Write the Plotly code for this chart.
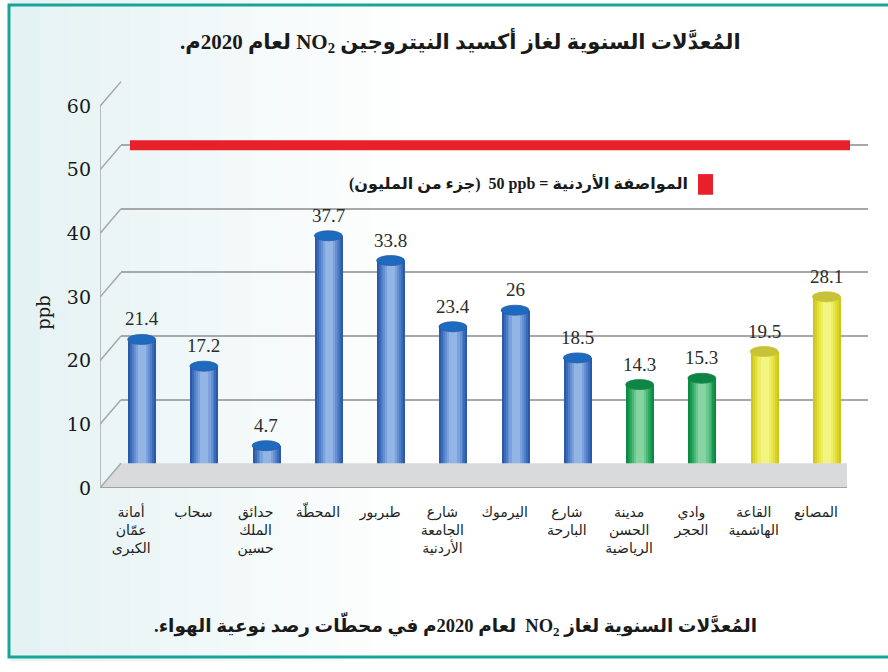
import plotly.graph_objects as go

# ---------------- data ----------------
STATIONS = [
    "أمانة<br>عمّان<br>الكبرى", "سحاب", "حدائق<br>الملك<br>حسين", "المحطّة", "طبربور",
    "شارع<br>الجامعة<br>الأردنية", "اليرموك", "شارع<br>البارحة",
    "مدينة<br>الحسن<br>الرياضية", "وادي<br>الحجر", "القاعة<br>الهاشمية", "المصانع",
]
NO2_PPB = [21.4, 17.2, 4.7, 37.7, 33.8, 23.4, 26, 18.5, 14.3, 15.3, 19.5, 28.1]
GROUP = ["blue"] * 8 + ["green"] * 2 + ["yellow"] * 2
STANDARD_PPB = 50
Y_TICKS = [0, 10, 20, 30, 40, 50, 60]

TITLE = "المُعدَّلات السنوية لغاز أكسيد النيتروجين NO<sub>2</sub> لعام 2020م."
CAPTION = "المُعدَّلات السنوية لغاز NO<sub>2</sub>  لعام 2020م في محطّات رصد نوعية الهواء."
LEGEND_TEXT = "المواصفة الأردنية = \u202a50 ppb\u202c  (جزء من المليون)"
Y_TITLE = "ppb"

# ---------------- styles ----------------
LAYER_COLORS = {
    "blue":   ["#2a5aa8", "#3a6ab9", "#4f7fc7", "#6590d2", "#7ba2dc", "#93b5e6"],
    "green":  ["#0a8a42", "#179a4f", "#2eaa62", "#4bb977", "#69c68d", "#88d3a3"],
    "yellow": ["#cdc71c", "#d8d328", "#e1de3a", "#e8e74e", "#eeee64", "#f3f482"],
}
CAP_COLORS = {"blue": "#1d6bbf", "green": "#0f8446", "yellow": "#c6c23c"}
WIDTH_FRAC = [1.0, 0.86, 0.72, 0.58, 0.44, 0.28]

W, H = 888, 672
CAT_N = len(NO2_PPB)
FRONT_L, FRONT_R = 100.0, 847.0          # px, front plane of the box
Y0_PX, YTOP_PX = 496.0, 82.0            # px, value 0 on the front plane / top of axes
PX_PER_UNIT = 6.467
DX_HALF, DY_HALF = 10.5, 12.5           # px, half depth of the box
CAT_PX = (FRONT_R - FRONT_L) / CAT_N
BAR_W = 28 / CAT_PX
Y_SPAN = (Y0_PX - YTOP_PX) / PX_PER_UNIT
DYU = DY_HALF / PX_PER_UNIT             # half depth in value units
DXU = DX_HALF / CAT_PX                  # half depth in category units

ydom = [1 - Y0_PX / H, 1 - YTOP_PX / H]
def xdom(shift):
    return [(FRONT_L + shift) / W, (FRONT_R + shift) / W]

GRID = "#a8a8a8"
AR_FONT = "DejaVu Sans"
SERIF = "DejaVu Serif"

def rtl(s):
    return "\u202b" + s + "\u202c"

fig = go.Figure()
idx = list(range(CAT_N))

# cylinder bodies: overlaid bars, dark edge -> light centre
for k, frac in enumerate(WIDTH_FRAC):
    fig.add_trace(go.Bar(
        x=idx, y=NO2_PPB, xaxis="x2", yaxis="y2",
        width=BAR_W * frac,
        marker=dict(color=[LAYER_COLORS[g][k] for g in GROUP], line=dict(width=0)),
        customdata=[s.replace("<br>", " ") for s in STATIONS],
        hovertemplate="%{customdata}: %{y} ppb<extra></extra>" if k == 0 else None,
        hoverinfo=None if k == 0 else "skip",
        showlegend=False,
    ))

shapes = []
# background tint
NB = 14
for b in range(NB):
    t = b / (NB - 1)
    r = int(229 + (255 - 229) * t); g_ = int(242 + (255 - 242) * t); bl = int(244 + (255 - 244) * t)
    shapes.append(dict(type="rect", xref="paper", yref="paper", layer="below",
                       x0=(10 + b * 30) / W, x1=(10 + (b + 1) * 30) / W, y0=0, y1=1,
                       fillcolor=f"rgb({r},{g_},{bl})", line=dict(width=0)))
# floor
x0f, x1f = -0.5, CAT_N - 0.5
shapes.append(dict(type="path", xref="x3", yref="y3", layer="below",
                   path=f"M {x0f},0 L {x1f},0 L {x1f + 2*DXU},{2*DYU} L {x0f + 2*DXU},{2*DYU} Z",
                   fillcolor="#d9dadc", line=dict(width=0)))
shapes.append(dict(type="line", xref="x3", yref="y3", layer="below",
                   x0=x0f, x1=x1f, y0=0, y1=0, line=dict(color="#8e8e8e", width=1.5)))
# left front edge and diagonals
shapes.append(dict(type="line", xref="x3", yref="y3", layer="below",
                   x0=x0f, x1=x0f, y0=0, y1=Y_TICKS[-1], line=dict(color=GRID, width=1.5)))
for v in Y_TICKS:
    shapes.append(dict(type="line", xref="x3", yref="y3", layer="below",
                       x0=x0f, x1=x0f + 2*DXU, y0=v, y1=v + 2*DYU,
                       line=dict(color=GRID, width=1.5)))
# cylinder bottoms and caps
for i, (v, g) in enumerate(zip(NO2_PPB, GROUP)):
    shapes.append(dict(type="circle", xref="x2", yref="y2", layer="below",
                       xsizemode="pixel", ysizemode="pixel", xanchor=i, yanchor=0,
                       x0=-14, x1=14, y0=-5, y1=5,
                       fillcolor=LAYER_COLORS[g][1], line=dict(width=0)))
    shapes.append(dict(type="circle", xref="x2", yref="y2", layer="above",
                       xsizemode="pixel", ysizemode="pixel", xanchor=i, yanchor=v,
                       x0=-14, x1=14, y0=-5, y1=5,
                       fillcolor=CAP_COLORS[g], line=dict(width=0.8, color=LAYER_COLORS[g][0])))
# standard line on the back wall
shapes.append(dict(type="line", xref="x domain", yref="y", layer="above",
                   x0=9 / (FRONT_R - FRONT_L), x1=729 / (FRONT_R - FRONT_L),
                   y0=STANDARD_PPB, y1=STANDARD_PPB, line=dict(color="#e8202a", width=10)))
# legend swatch
shapes.append(dict(type="rect", xref="paper", yref="paper", layer="above",
                   x0=698 / W, x1=713 / W, y0=1 - 198 / H, y1=1 - 177 / H,
                   fillcolor="#e8202a", line=dict(width=0)))
# frame
shapes.append(dict(type="rect", xref="paper", yref="paper", layer="above",
                   x0=9 / W, x1=1.02, y0=1 - 668 / H, y1=1 - 5 / H,
                   line=dict(color="#19a595", width=3), fillcolor="rgba(0,0,0,0)"))

annotations = []
for i, v in enumerate(NO2_PPB):
    annotations.append(dict(x=i, y=v, xref="x2", yref="y2", text=f"{v:g}",
                            showarrow=False, yanchor="bottom", yshift=8,
                            font=dict(family="Liberation Serif", size=19, color="#2b2b2b")))
annotations += [
    dict(x=460 / W, y=1 - 42 / H, xref="paper", yref="paper", text=rtl(TITLE), showarrow=False,
         xanchor="center", yanchor="middle",
         font=dict(family=f"Liberation Serif, {AR_FONT}", size=21, color="#1a1a1a", weight="bold")),
    dict(x=455 / W, y=1 - 636 / H, xref="paper", yref="paper", text=rtl(CAPTION), showarrow=False,
         xanchor="center", yanchor="middle",
         font=dict(family=f"Liberation Serif, {AR_FONT}", size=18.5, color="#1a1a1a", weight="bold")),
    dict(x=690 / W, y=1 - 187 / H, xref="paper", yref="paper", text=rtl(LEGEND_TEXT), showarrow=False,
         xanchor="right", yanchor="middle",
         font=dict(family=f"Liberation Serif, {AR_FONT}", size=16, color="#1a1a1a", weight="bold")),
    dict(x=44 / W, y=1 - 318 / H, xref="paper", yref="paper", text=Y_TITLE, showarrow=False,
         xanchor="center", yanchor="middle",
         textangle=-90, font=dict(family=SERIF, size=18, color="#1a1a1a")),
]

hidden = dict(visible=False, showgrid=False, zeroline=False)
fig.update_layout(
    width=W, height=H, margin=dict(l=0, r=0, t=0, b=0),
    paper_bgcolor="white", plot_bgcolor="rgba(0,0,0,0)",
    barmode="overlay", showlegend=False, bargap=0,
    # back wall
    xaxis=dict(domain=xdom(2 * DX_HALF), range=[-0.5, CAT_N - 0.5], anchor="y", **hidden),
    yaxis=dict(domain=ydom, range=[-2 * DYU, Y_SPAN - 2 * DYU], anchor="x",
               tickvals=Y_TICKS[1:], showticklabels=False, showgrid=True, gridcolor=GRID,
               gridwidth=1.5, zeroline=False, showline=False, ticks=""),
    # mid plane (bars)
    xaxis2=dict(domain=xdom(DX_HALF), range=[-0.5, CAT_N - 0.5], anchor="y2", **hidden),
    yaxis2=dict(domain=ydom, range=[-DYU, Y_SPAN - DYU], anchor="x2", **hidden),
    # front plane (labels)
    xaxis3=dict(domain=xdom(0), range=[-0.5, CAT_N - 0.5], anchor="y3",
                tickvals=idx, ticktext=STATIONS, showgrid=False, zeroline=False, showline=False,
                ticks="", ticklabelstandoff=14,
                tickfont=dict(family=AR_FONT, size=14, color="#222222")),
    yaxis3=dict(domain=ydom, range=[0, Y_SPAN], anchor="x3", tickvals=Y_TICKS,
                showgrid=False, zeroline=False, showline=False, ticks="", ticklabelstandoff=8,
                tickfont=dict(family=SERIF, size=19, color="#1a1a1a")),
    shapes=shapes, annotations=annotations,
)

fig.write_html("out.html", config={"displayModeBar": False},
               post_script="document.body.style.margin='0';document.body.style.overflow='hidden';")
